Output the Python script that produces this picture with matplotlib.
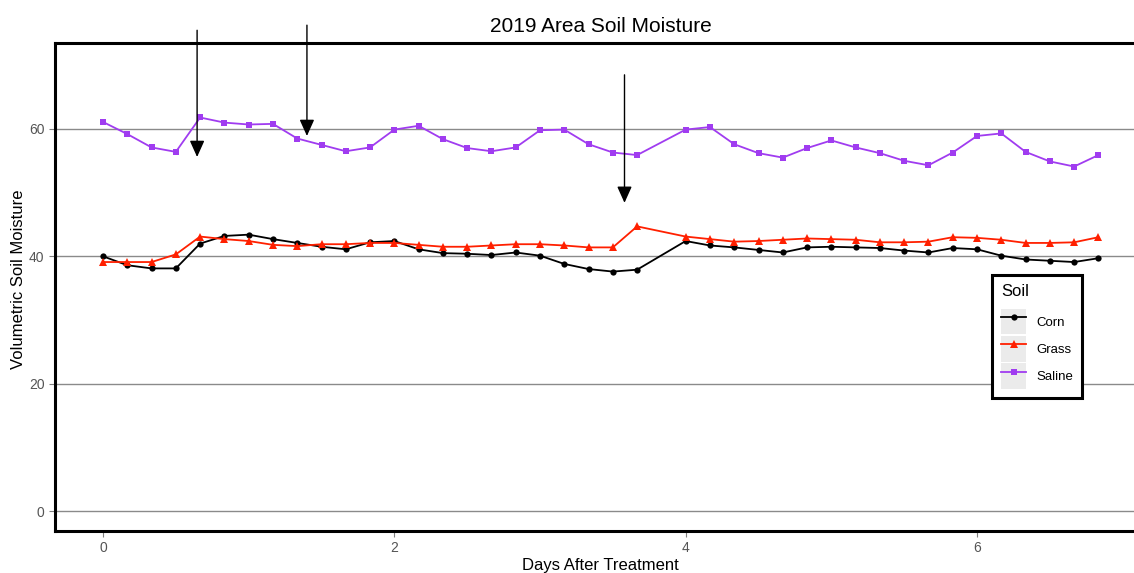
import matplotlib
matplotlib.use("Agg")
import matplotlib.pyplot as plt
from matplotlib.patches import Rectangle
from matplotlib.lines import Line2D
from matplotlib.legend_handler import HandlerTuple
import numpy as np

plt.rcParams['font.family'] = ['Liberation Sans', 'DejaVu Sans']

# Days after treatment (4-hour steps; one reading missing at 3.83 d)
days = [0, 1/6, 2/6, 3/6, 4/6, 5/6, 1, 7/6, 8/6, 9/6, 10/6, 11/6, 2,
        13/6, 14/6, 15/6, 16/6, 17/6, 3, 19/6, 20/6, 21/6, 22/6,
        4, 25/6, 26/6, 27/6, 28/6, 29/6, 5, 31/6, 32/6, 33/6, 34/6, 35/6,
        6, 37/6, 38/6, 39/6, 40/6, 41/6]

corn = [40.0, 38.6, 38.1, 38.1, 42.0, 43.2, 43.4, 42.7, 42.1, 41.5, 41.1, 42.2, 42.4,
        41.1, 40.5, 40.4, 40.2, 40.6, 40.1, 38.8, 38.0, 37.6, 37.9,
        42.4, 41.7, 41.4, 41.0, 40.6, 41.4, 41.5, 41.4, 41.3, 40.9, 40.6, 41.3,
        41.1, 40.1, 39.5, 39.3, 39.1, 39.7]

grass = [39.1, 39.1, 39.1, 40.3, 43.1, 42.7, 42.4, 41.8, 41.6, 41.9, 41.9, 42.1, 42.1,
         41.8, 41.5, 41.5, 41.7, 41.9, 41.9, 41.7, 41.4, 41.4, 44.7,
         43.1, 42.7, 42.3, 42.4, 42.6, 42.8, 42.7, 42.6, 42.2, 42.2, 42.3, 43.0,
         42.9, 42.6, 42.1, 42.1, 42.2, 43.0]

saline = [61.1, 59.2, 57.1, 56.4, 61.8, 61.0, 60.7, 60.8, 58.5, 57.5, 56.5, 57.1, 59.9,
          60.5, 58.4, 57.0, 56.5, 57.1, 59.8, 59.9, 57.6, 56.3, 55.9,
          59.9, 60.3, 57.6, 56.2, 55.5, 57.0, 58.2, 57.1, 56.2, 55.0, 54.3, 56.3,
          58.9, 59.3, 56.4, 54.9, 54.1, 55.9]

series_names = ["Corn", "Grass", "Saline"]
series_colors = ["#000000", "#FF2000", "#A03CF0"]
series_markers = ["o", "^", "s"]

hline_values = [0, 20, 40, 60]
x_ticks = [0, 2, 4, 6]
y_ticks = [0, 20, 40, 60]

# Arrows: (x, y_start, y_tip)
arrow_x = [0.646, 1.40, 3.58]
arrow_top = [75.5, 76.3, 68.5]
arrow_tip = [55.6, 58.9, 48.4]

W, H = 1134, 573
fig = plt.figure(figsize=(W / 100, H / 100), dpi=100)
left, right, top, bottom = 55, 1146, 43, 531
ax = fig.add_axes([left / W, 1 - bottom / H, (right - left) / W, (bottom - top) / H])

for hv in hline_values:
    ax.axhline(hv, color="#8a8a8a", linewidth=1.0, zorder=1)

handles = []
for vals, name, col, mk in zip([corn, grass, saline], series_names, series_colors, series_markers):
    ms = 4.5 if mk == "o" else (5.5 if mk == "^" else 4.8)
    ln, = ax.plot(days, vals, color=col, marker=mk, markersize=ms, linewidth=1.3,
                  markeredgewidth=0, label=name, zorder=3)
    bg = Rectangle((0, 0), 1, 1, facecolor="#ebebeb", edgecolor="none")
    handles.append((bg, ln))

for xa, yt, yp in zip(arrow_x, arrow_top, arrow_tip):
    ax.annotate("", xy=(xa, yp), xytext=(xa, yt), xycoords="data",
                annotation_clip=False,
                arrowprops=dict(arrowstyle="-|>,head_length=1.0,head_width=0.45",
                                color="black", linewidth=1.0, shrinkA=0, shrinkB=0))

ax.set_xlim(-0.3295, 7.16)
ax.set_ylim(-3.14, 73.5)
ax.set_xticks(x_ticks)
ax.set_yticks(y_ticks)
ax.tick_params(axis="both", colors="#7f7f7f", labelcolor="#555555", labelsize=10,
               length=4, width=0.8)
for sp in ax.spines.values():
    sp.set_linewidth(2.2)
    sp.set_color("black")

ax.set_title("2019 Area Soil Moisture", fontsize=15, pad=8)
ax.set_xlabel("Days After Treatment", fontsize=12, labelpad=2)
ax.set_ylabel("Volumetric Soil Moisture", fontsize=12)
ax.yaxis.set_label_coords(-0.0266, 0.516)

leg = ax.legend(handles, series_names, title="Soil",
                handler_map={tuple: HandlerTuple(ndivide=1, pad=0)},
                loc="upper left", bbox_to_anchor=(992 / W, 1 - 275 / H),
                bbox_transform=fig.transFigure, borderaxespad=0, fontsize=9.5,
                title_fontsize=12, handlelength=1.9, handleheight=2.6, labelspacing=0.12,
                handletextpad=0.75, borderpad=0.7, fancybox=False, framealpha=1,
                alignment="left")
leg._legend_box.sep = 7.0
leg.get_frame().set_edgecolor("black")
leg.get_frame().set_linewidth(2.2)

fig.savefig("out.png", dpi=100)
